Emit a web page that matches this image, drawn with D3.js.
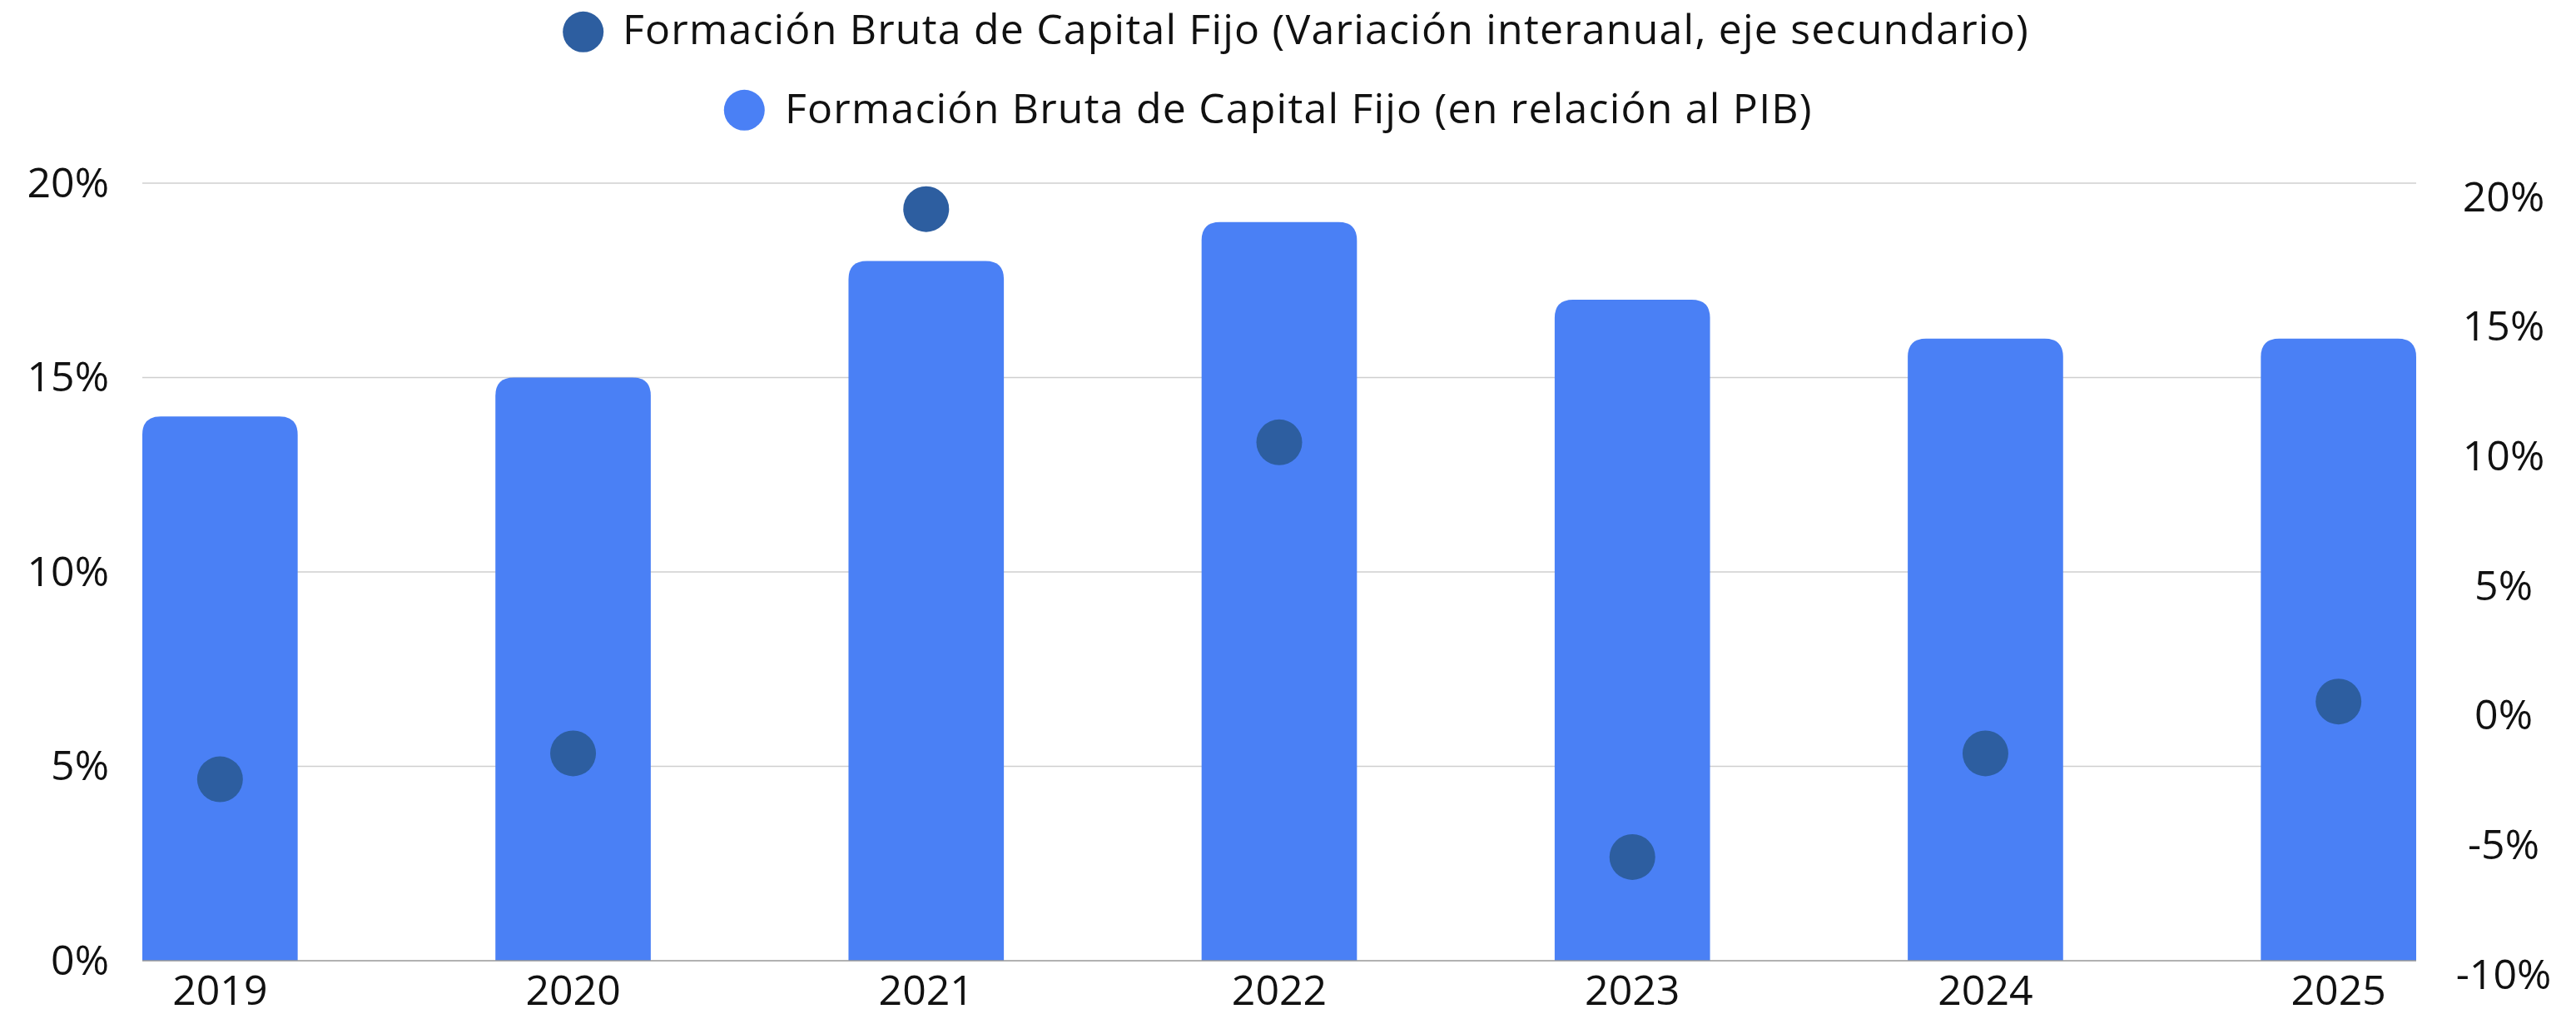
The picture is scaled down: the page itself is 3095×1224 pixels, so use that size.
<!DOCTYPE html>
<html>
    <head>
        <script src="https://d3js.org/d3.v7.min.js"></script>
        <style>
            body { margin: 0; background: #fff; }
            text { font-family: 'Open Sans', sans-serif; fill: #111; }
        </style>
    </head>
    <body>
        <svg height='1224' width='3095'></svg>

        <script>
            const years = ['2019', '2020', '2021', '2022', '2023', '2024', '2025'];
            // Formación Bruta de Capital Fijo, % del PIB (barras, eje izquierdo)
            const fbcfPib = [14, 15, 18, 19, 17, 16, 16];
            // variación interanual, % (puntos, eje secundario)
            const fbcfVar = [-3, -2, 19, 10, -6, -2, 0];
            const leftTicks = [0, 5, 10, 15, 20];
            const rightTicks = [-10, -5, 0, 5, 10, 15, 20];
            const legendLabels = [
                'Formación Bruta de Capital Fijo (Variación interanual, eje secundario)',
                'Formación Bruta de Capital Fijo (en relación al PIB)'
            ];

            const svg = d3.select('svg');
            const width = +svg.attr('width');
            const height = +svg.attr('height');

            const margin = { top: 220, right: 192, bottom: 70, left: 171 };
            const innerW = width - margin.left - margin.right;
            const innerH = height - margin.top - margin.bottom;

            const barColor = '#4a80f5';
            const dotColor = '#2d5ea0';

            const g = svg.append('g')
                .attr('transform', `translate(${margin.left},${margin.top})`);

            const x = d3.scaleBand()
                .domain(years)
                .range([0, innerW])
                .paddingInner(0.56)
                .paddingOuter(0);

            const yLeft = d3.scaleLinear().domain([0, 20]).range([innerH, 0]);
            const yRight = d3.scaleLinear().domain([-10, 20]).range([innerH, 0]);

            // gridlines
            g.selectAll('.grid')
                .data(leftTicks.filter(d => d > 0))
                .enter().append('line')
                .attr('x1', 0)
                .attr('x2', innerW)
                .attr('y1', d => yLeft(d))
                .attr('y2', d => yLeft(d))
                .attr('stroke', '#cfcfcf')
                .attr('stroke-width', 1.5);

            // bars with rounded top corners
            const r = 22;
            const barPath = (d, i) => {
                const x0 = x(years[i]);
                const x1 = x0 + x.bandwidth();
                const y0 = yLeft(0);
                const y1 = yLeft(d);
                return `M${x0},${y0} V${y1 + r} Q${x0},${y1} ${x0 + r},${y1} H${x1 - r} Q${x1},${y1} ${x1},${y1 + r} V${y0} Z`;
            };

            g.selectAll('.bar')
                .data(fbcfPib)
                .enter().append('path')
                .attr('class', 'bar')
                .attr('d', barPath)
                .attr('fill', barColor);

            // baseline
            g.append('line')
                .attr('x1', 0)
                .attr('x2', innerW)
                .attr('y1', yLeft(0))
                .attr('y2', yLeft(0))
                .attr('stroke', '#999')
                .attr('stroke-width', 1.5);

            // dots
            g.selectAll('.dot')
                .data(fbcfVar)
                .enter().append('circle')
                .attr('class', 'dot')
                .attr('cx', (d, i) => x(years[i]) + x.bandwidth() / 2)
                .attr('cy', d => yRight(d))
                .attr('r', 27.5)
                .attr('fill', dotColor);

            // axes
            const axisLeft = g.append('g')
                .call(d3.axisLeft(yLeft).tickValues(leftTicks).tickSize(0).tickPadding(40)
                    .tickFormat(d => d + '%'));

            const axisRight = g.append('g')
                .attr('transform', `translate(${innerW + 105},17)`)
                .call(d3.axisRight(yRight).tickValues(rightTicks).tickSize(0).tickPadding(0)
                    .tickFormat(d => d + '%'));
            axisRight.selectAll('text').attr('text-anchor', 'middle');

            const axisBottom = g.append('g')
                .attr('transform', `translate(0,${innerH})`)
                .call(d3.axisBottom(x).tickSize(0).tickPadding(17));

            [axisLeft, axisRight, axisBottom].forEach(a => {
                a.select('.domain').remove();
                a.selectAll('text')
                    .style('font-size', '50px')
                    .attr('fill', '#111');
            });

            // legend
            const legendRows = [
                { cx: 700.7, cy: 38.3, tx: 748, ty: 53.3, color: dotColor },
                { cx: 894.3, cy: 132.3, tx: 943, ty: 147.7, color: barColor }
            ];

            const legend = svg.selectAll('.legend')
                .data(legendLabels)
                .enter().append('g')
                .attr('class', 'legend');

            legend.append('circle')
                .attr('cx', (d, i) => legendRows[i].cx)
                .attr('cy', (d, i) => legendRows[i].cy)
                .attr('r', 24.5)
                .attr('fill', (d, i) => legendRows[i].color);

            legend.append('text')
                .attr('x', (d, i) => legendRows[i].tx)
                .attr('y', (d, i) => legendRows[i].ty)
                .style('font-size', '50px')
                .style('letter-spacing', '1.2px')
                .text(d => d);
        </script>
    </body>
</html>
